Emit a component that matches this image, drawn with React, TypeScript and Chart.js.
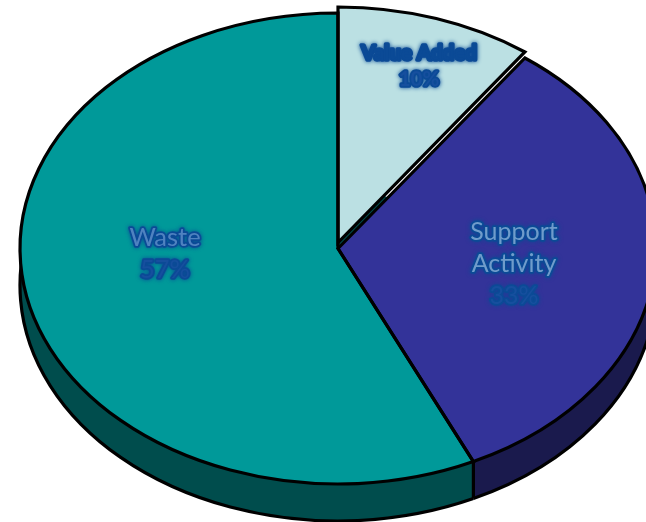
import React, { useEffect, useRef } from "react";
import { Chart, registerables } from "chart.js";

Chart.register(...registerables);

const categories = ["Value Added", "Support Activity", "Waste"];
const shares = [10, 33, 57];
const topColors = ["#BBE0E3", "#333399", "#009999"];
const wallColors = ["#004D4D", "#1A1A4D", "#004D4D"];

const WIDTH = 646;
const HEIGHT = 522;
const CENTER_X = 338;
const CENTER_Y = 248.5;
const RADIUS = 318;
const SQUASH = 235.5 / 318;
const DEPTH = 37;
const LIFT = 6;
const INNER_WALL_RADIUS = 85;
const LINE = 3.2;

type LabelSpec = { lines: string[]; x: number; y: number; size: number; bold: boolean; fill: string };
const labelSpecs: LabelSpec[] = [
  { lines: ["Value Added", "10%"], x: 419, y: 53, size: 20.5, bold: true, fill: "#0B4A96" },
  { lines: ["Support", "Activity", "33%"], x: 514, y: 232, size: 25, bold: false, fill: "#6F9CCB" },
  { lines: ["Waste", "57%"], x: 165, y: 238, size: 25.5, bold: false, fill: "#4F82C0" },
];
const LINE_STEPS = [26, 32, 32];

const piePlugin = {
  id: "tiltedPie",
  beforeDatasetsDraw(chart: any) {
    const ctx = chart.ctx;
    const arcs = chart.getDatasetMeta(0).data;
    const toScreen = (a: any) => {
      ctx.translate(CENTER_X, CENTER_Y);
      ctx.scale(1, SQUASH);
      ctx.translate(-a.x, -a.y);
    };

    // the side wall: Support first, Waste over it, so their seam is vertical
    const depth = DEPTH / SQUASH;
    [1, 2].forEach((i) => {
      const a = arcs[i];
      ctx.save();
      toScreen(a);
      ctx.beginPath();
      ctx.arc(a.x, a.y, a.outerRadius, a.startAngle, a.endAngle);
      ctx.arc(a.x, a.y + depth, a.outerRadius, a.endAngle, a.startAngle, true);
      ctx.closePath();
      ctx.fillStyle = wallColors[i];
      ctx.fill();
      ctx.beginPath();
      ctx.arc(a.x, a.y + depth, a.outerRadius, a.startAngle, a.endAngle);
      ctx.restore();
      ctx.lineWidth = LINE;
      ctx.strokeStyle = "#000";
      ctx.stroke();
    });

    // seam between the two walls
    const seam = arcs[2];
    ctx.save();
    toScreen(seam);
    const sx = seam.x + Math.cos(seam.startAngle) * seam.outerRadius;
    const sy = seam.y + Math.sin(seam.startAngle) * seam.outerRadius;
    ctx.beginPath();
    ctx.moveTo(sx, sy);
    ctx.lineTo(sx, sy + depth);
    ctx.restore();
    ctx.lineWidth = LINE;
    ctx.strokeStyle = "#000";
    ctx.stroke();

    // the dark inner wall that shows in the gap beside the lifted slice
    const v = arcs[0];
    ctx.save();
    toScreen(v);
    ctx.beginPath();
    ctx.moveTo(v.x, v.y);
    ctx.arc(v.x, v.y, INNER_WALL_RADIUS, v.startAngle, v.endAngle);
    ctx.closePath();
    ctx.fillStyle = wallColors[0];
    ctx.fill();
    ctx.restore();

    // the value slice is lifted straight up, not along its radius
    if (!v.__lifted) {
      v.__lifted = true;
      const draw = v.draw;
      v.draw = function (c: any, area: any) {
        c.save();
        c.translate(0, -LIFT / SQUASH);
        draw.call(v, c, area);
        c.restore();
      };
    }

    ctx.save();
    toScreen(v);
  },
  afterDatasetsDraw(chart: any) {
    const ctx = chart.ctx;
    ctx.restore();
    const arcs = chart.getDatasetMeta(0).data;
    arcs.forEach((a: any, i: number) => {
      ctx.save();
      ctx.translate(CENTER_X, CENTER_Y - (i === 0 ? LIFT : 0));
      ctx.scale(1, SQUASH);
      ctx.translate(-a.x, -a.y);
      ctx.beginPath();
      ctx.moveTo(a.x, a.y);
      ctx.arc(a.x, a.y, a.outerRadius, a.startAngle, a.endAngle);
      ctx.closePath();
      ctx.restore();
      ctx.lineWidth = LINE;
      ctx.lineJoin = "miter";
      ctx.strokeStyle = "#000";
      ctx.stroke();
    });

    ctx.save();
    ctx.textAlign = "center";
    ctx.textBaseline = "middle";
    ctx.lineJoin = "round";
    labelSpecs.forEach((spec, i) => {
      ctx.font = `${spec.bold ? "bold " : ""}${spec.size}px Lato, sans-serif`;
      spec.lines.forEach((line, k) => {
        const y = spec.y + k * LINE_STEPS[i];
        ctx.shadowColor = "#0B4A96";
        ctx.shadowBlur = 4;
        ctx.strokeStyle = "#0B4A96";
        ctx.lineWidth = 3.5;
        ctx.strokeText(line, spec.x, y);
        ctx.shadowBlur = 0;
        ctx.fillStyle = line.endsWith("%") ? "#164F9E" : spec.fill;
        ctx.fillText(line, spec.x, y);
      });
    });
    ctx.restore();
  },
};

export default function App() {
  const ref = useRef<HTMLCanvasElement | null>(null);
  useEffect(() => {
    const chart = new Chart(ref.current as HTMLCanvasElement, {
      type: "pie",
      data: {
        labels: categories,
        datasets: [
          {
            data: shares,
            backgroundColor: topColors,
            borderWidth: 0,
            clip: false,
          } as any,
        ],
      },
      options: {
        responsive: false,
        animation: false,
        radius: RADIUS,
        layout: { padding: 0 },
        plugins: { legend: { display: false }, tooltip: { enabled: false } },
      } as any,
      plugins: [piePlugin as any],
    });
    return () => chart.destroy();
  }, []);
  return (
    <canvas
      ref={ref}
      width={WIDTH}
      height={HEIGHT}
      style={{ position: "fixed", left: 0, top: 0, width: WIDTH, height: HEIGHT }}
    />
  );
}
